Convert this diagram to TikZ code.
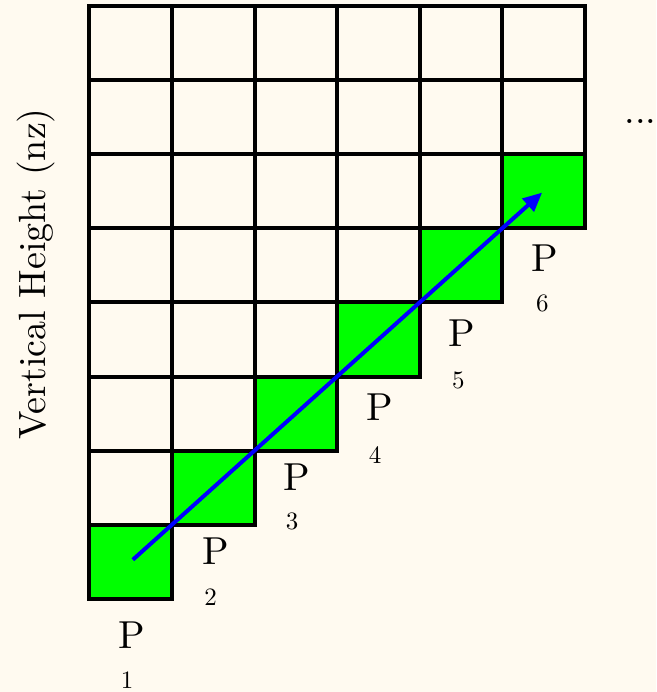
\documentclass[tikz,border=0pt]{standalone}
\usepackage{fontspec}
\setmainfont{lmroman10-regular.otf}[BoldFont=lmroman10-bold.otf]
\usetikzlibrary{arrows.meta}
\definecolor{bgcream}{RGB}{255,250,240}
\definecolor{cellgreen}{RGB}{0,255,0}
\definecolor{arrowblue}{RGB}{0,0,255}
\begin{document}
\begin{tikzpicture}[x=1pt,y=-1pt,
  cell/.style={draw=black,line width=4pt,minimum width=82.6pt,minimum height=74.1pt,inner sep=0pt,outer sep=0pt,fill=bgcream},
  greencell/.style={cell,fill=cellgreen},
  plabel/.style={inner sep=0pt,font=\fontsize{39}{46}\selectfont},
  nlabel/.style={inner sep=0pt,font=\fontsize{25}{30}\selectfont},
  diagarrow/.style={draw=arrowblue,line width=4pt,-{Triangle[length=19pt,width=17pt]},shorten <=3pt,shorten >=2pt}]
\fill[bgcream] (0,0) rectangle (656,692);
\useasboundingbox (0,0) rectangle (656,692);
% grid cells
\foreach \c in {0,...,5}{
  \pgfmathtruncatemacro{\rmax}{6-\c}
  \foreach \r in {0,...,\rmax}{
    \node[cell] (c-\c-\r) at ({89.3+82.6*\c+41.3},{6+74.1*\r+37.05}) {};
  }
  \pgfmathtruncatemacro{\rg}{7-\c}
  \node[greencell] (c-\c-\rg) at ({89.3+82.6*\c+41.3},{6+74.1*\rg+37.05}) {};
}
% arrow
\draw[diagarrow] (c-0-7.center) -- (c-5-2.center);
% labels
\node[plabel] (p1) at (131.7,635) {P};
\node[nlabel] (n1) at (127,680) {1};
\node[plabel] (p2) at (216,551) {P};
\node[nlabel] (n2) at (210.7,596.7) {2};
\node[plabel] (p3) at (297,476.7) {P};
\node[nlabel] (n3) at (292,521.7) {3};
\node[plabel] (p4) at (380,406.7) {P};
\node[nlabel] (n4) at (375,455) {4};
\node[plabel] (p5) at (461.7,333.3) {P};
\node[nlabel] (n5) at (458.3,380) {5};
\node[plabel] (p6) at (545,258.3) {P};
\node[nlabel] (n6) at (542.3,303.3) {6};
% axis label
\node[inner sep=0pt,anchor=base,rotate=90,font=\fontsize{38}{46}\selectfont] (ylab) at (45,274) {Vertical Height (nz)};
% dots
\node[inner sep=0pt,anchor=base,font=\fontsize{38}{46}\selectfont] (dots) at (640.5,123.5) {...};
\end{tikzpicture}
\end{document}
